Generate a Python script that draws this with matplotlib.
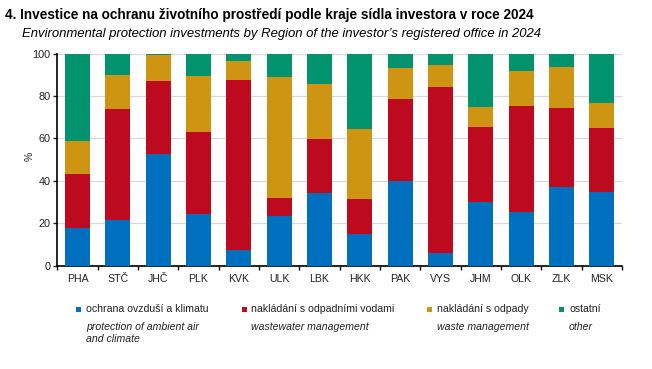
import matplotlib
matplotlib.use("Agg")
import matplotlib.pyplot as plt
import numpy as np

regions = ["PHA", "STČ", "JHČ", "PLK", "KVK", "ULK", "LBK", "HKK", "PAK", "VYS", "JHM", "OLK", "ZLK", "MSK"]
# shares in %
air = [17.7, 21.3, 52.7, 24.4, 7.4, 23.2, 34.4, 14.8, 39.7, 5.7, 30.0, 25.1, 36.9, 34.7]
wastewater = [25.4, 52.7, 34.4, 38.7, 80.3, 8.8, 25.4, 16.6, 38.8, 78.5, 35.5, 50.1, 37.4, 30.3]
waste = [15.6, 16.1, 12.1, 26.6, 9.0, 57.1, 25.7, 33.0, 14.9, 10.6, 9.1, 16.6, 19.4, 11.5]
other = [41.3, 9.9, 0.8, 10.3, 3.3, 10.9, 14.5, 35.6, 6.6, 5.2, 25.4, 8.2, 6.3, 23.5]

series_cz = ["ochrana ovzduší a klimatu", "nakládání s odpadními vodami", "nakládání s odpady", "ostatní"]
series_en = ["protection of ambient air\nand climate", "wastewater management", "waste management", "other"]
colors = ["#0070BE", "#BD0A1E", "#CD9512", "#00936D"]

title_cz = "4. Investice na ochranu životního prostředí podle kraje sídla investora v roce 2024"
title_en = "Environmental protection investments by Region of the investor\u2019s registered office in 2024"

plt.rcParams['font.family'] = ['Liberation Sans', 'DejaVu Sans']

W, H = 652, 369
fig = plt.figure(figsize=(W / 100, H / 100), dpi=100)
ax = fig.add_axes([57.3 / W, 1 - 265.5 / H, (622 - 57.3) / W, (265.5 - 53.7) / H])

x = np.arange(len(regions))
data = [air, wastewater, waste, other]
bottom = np.zeros(len(regions))
for vals, c in zip(data, colors):
    v = np.array(vals)
    ax.bar(x, v, bottom=bottom, width=0.62, color=c, edgecolor='none', zorder=3)
    bottom += v

ax.set_xlim(-0.5, len(regions) - 0.5)
ax.set_ylim(0, 100)
ax.set_yticks([0, 20, 40, 60, 80, 100])
ax.tick_params(axis='y', labelsize=7.8, length=3, width=1, direction='out', pad=2, colors='#222222')
ax.yaxis.grid(True, color='#D9D9D9', linewidth=0.9, zorder=0)
ax.set_axisbelow(True)

ax.set_xticks(np.arange(-0.5, len(regions), 1.0))
ax.set_xticklabels([])
ax.tick_params(axis='x', which='major', length=3, width=1, direction='out')
ax.set_xticks(x, minor=True)
ax.set_xticklabels(regions, minor=True)
ax.tick_params(axis='x', which='minor', length=0, labelsize=7.6, pad=6, colors='#222222')

for s in ['top', 'right']:
    ax.spines[s].set_visible(False)
for s in ['left', 'bottom']:
    ax.spines[s].set_linewidth(1.2)
    ax.spines[s].set_color('black')

fig.text(30 / W, 1 - 156 / H, "%", rotation=90, ha='center', va='center', fontsize=7.5, color='#222222')

fig.text(5 / W, 1 - 19.5 / H, title_cz, fontsize=9.85, fontweight='bold', ha='left', va='baseline', color='black')
fig.text(21.7 / W, 1 - 36.5 / H, title_en, fontsize=9.45, style='italic', ha='left', va='baseline', color='black')

sq_x = [76, 242, 427, 559]
tx_x = [86, 251, 437, 569]
for sx, tx, c, cz, en in zip(sq_x, tx_x, colors, series_cz, series_en):
    fig.patches.append(plt.Rectangle((sx / W, 1 - 311.5 / H), 5 / W, 5 / H, transform=fig.transFigure,
                                     facecolor=c, edgecolor='none'))
    fig.text(tx / W, 1 - 309 / H, cz, fontsize=7.6, ha='left', va='center', color='#222222')
    fig.text(tx / W, 1 - 321.5 / H, en, fontsize=7.6, style='italic', ha='left', va='top',
             color='#222222', linespacing=1.25)

fig.savefig("out.png", dpi=100)
